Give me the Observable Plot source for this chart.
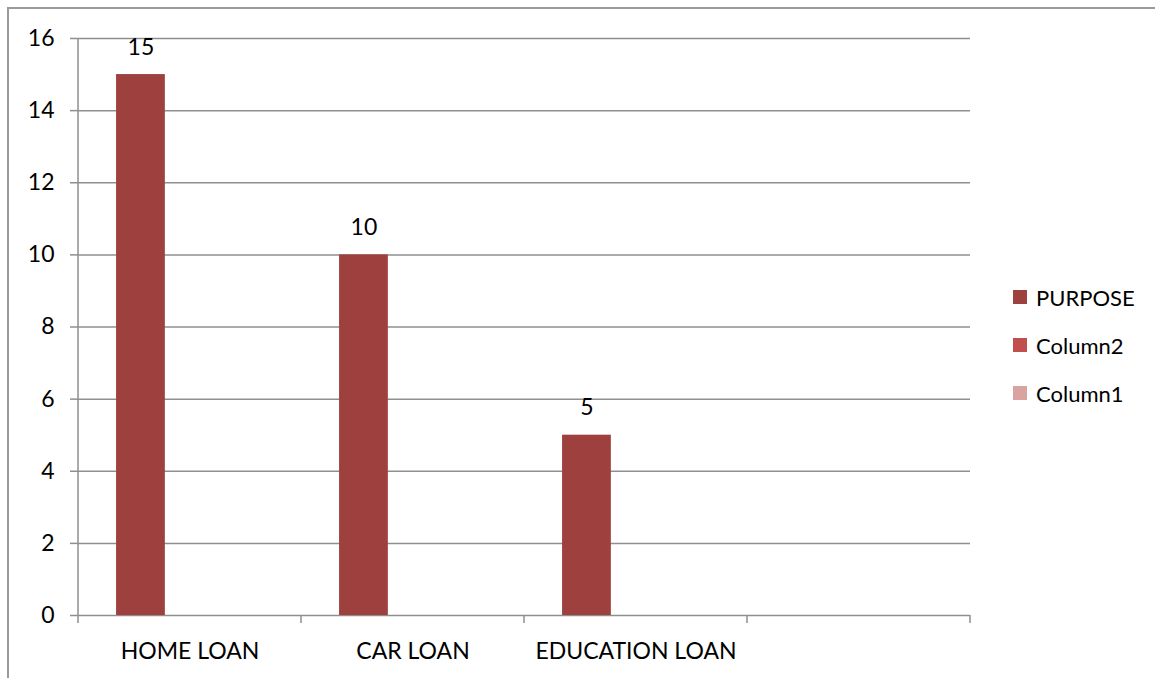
<!DOCTYPE html>
<html><head><meta charset="utf-8">
<script src="https://cdn.jsdelivr.net/npm/d3@7"></script>
<script src="https://cdn.jsdelivr.net/npm/@observablehq/plot@0.6"></script>
<style>
body{margin:0;background:#fff;font-family:Lato, "Noto Sans", sans-serif;}
#wrap{position:relative;width:1155px;height:678px;overflow:hidden;background:#fff;}
#chart svg{display:block;}
.bline{position:absolute;background:#9a9a9a;z-index:5;pointer-events:none;}
#btop{left:7px;top:7px;width:1148px;height:2px;}
#bleft{left:7px;top:7px;width:2px;height:671px;}
#legend{position:absolute;left:0;top:0;font-size:22px;color:#000;z-index:6;}
.lg{position:absolute;display:flex;align-items:center;white-space:nowrap;}
.sw{width:14px;height:14px;margin-right:9px;}
</style></head><body>
<div id="wrap"><div id="chart"></div><div class="bline" id="btop"></div><div class="bline" id="bleft"></div><div id="legend"></div></div>
<script>
const categories = ["HOME LOAN", "CAR LOAN", "EDUCATION LOAN", ""];
const seriesNames = ["PURPOSE", "Column2", "Column1"];
const purposeValues = [15, 10, 5];
const seriesColors = ["#9E413E", "#C0504D", "#D9A3A1"];
const yTicks = [0, 2, 4, 6, 8, 10, 12, 14, 16];

const W = 1155, H = 678;
const mL = 77, mR = 185, mT = 38, mB = 63;
const gridColor = "#8f8f8f";

const data = purposeValues.map((v, i) => ({category: categories[i], series: seriesNames[0], value: v}));

// inner (series) band within each category band
const bw = (W - mL - mR) / categories.length;
const inner = d3.scaleBand(seriesNames, [0, bw]).paddingInner(0).paddingOuter(0.776);
const s0 = seriesNames[0];
const insetL = inner(s0);
const insetR = bw - inner(s0) - inner.bandwidth();
const labelDx = inner(s0) + inner.bandwidth() / 2 - bw / 2;

function axisLines(index, scales, values, dims) {
  const x = scales.x;
  const dom = x.domain();
  const b = x.bandwidth ? x.bandwidth() : (dims.width - dims.marginLeft - dims.marginRight) / dom.length;
  const y0 = dims.height - dims.marginBottom;
  const g = d3.create("svg:g").attr("stroke", gridColor).attr("stroke-width", 1.5);
  const xs = dom.map(d => x(d)).concat([x(dom[dom.length - 1]) + b]);
  g.selectAll("line.t").data(xs).join("line")
    .attr("x1", d => d).attr("x2", d => d).attr("y1", y0).attr("y2", y0 + 8);
  g.append("line").attr("x1", xs[0]).attr("x2", xs[0]).attr("y1", dims.marginTop).attr("y2", y0);
  return g.node();
}

const chart = Plot.plot({
  width: W, height: H,
  marginLeft: mL, marginRight: mR, marginTop: mT, marginBottom: mB,
  style: {fontFamily: "Lato, 'Noto Sans', sans-serif", fontSize: "23px", color: "#000", background: "transparent"},
  x: {domain: categories, padding: 0, label: null},
  y: {domain: [0, 16], label: null},
  color: {domain: seriesNames, range: seriesColors},
  marks: [
    Plot.ruleY(yTicks, {stroke: gridColor, strokeWidth: 1.5}),
    Plot.barY(data, {x: "category", y: "value", fill: "series", insetLeft: insetL, insetRight: insetR}),
    Plot.text(data, {x: "category", y: "value", text: d => String(d.value), dx: labelDx, dy: -20, lineAnchor: "bottom", fill: "#000"}),
    Plot.axisY({ticks: yTicks, tickSize: 7, tickPadding: 16, stroke: gridColor, strokeWidth: 1.5, fill: "#000", label: null}),
    Plot.axisX({tickSize: 0, tickPadding: 27, fill: "#000", label: null}),
    axisLines
  ]
});
document.getElementById("chart").appendChild(chart);

const legend = document.getElementById("legend");
const rowCenters = [297, 345, 393];
seriesNames.forEach((s, i) => {
  const row = document.createElement("div");
  row.className = "lg";
  row.style.left = "1013px";
  row.style.top = (rowCenters[i] - 14) + "px";
  row.style.height = "28px";
  const sw = document.createElement("div");
  sw.className = "sw";
  sw.style.background = seriesColors[i];
  const t = document.createElement("span");
  t.textContent = s;
  row.appendChild(sw); row.appendChild(t);
  legend.appendChild(row);
});
</script>
</body></html>
